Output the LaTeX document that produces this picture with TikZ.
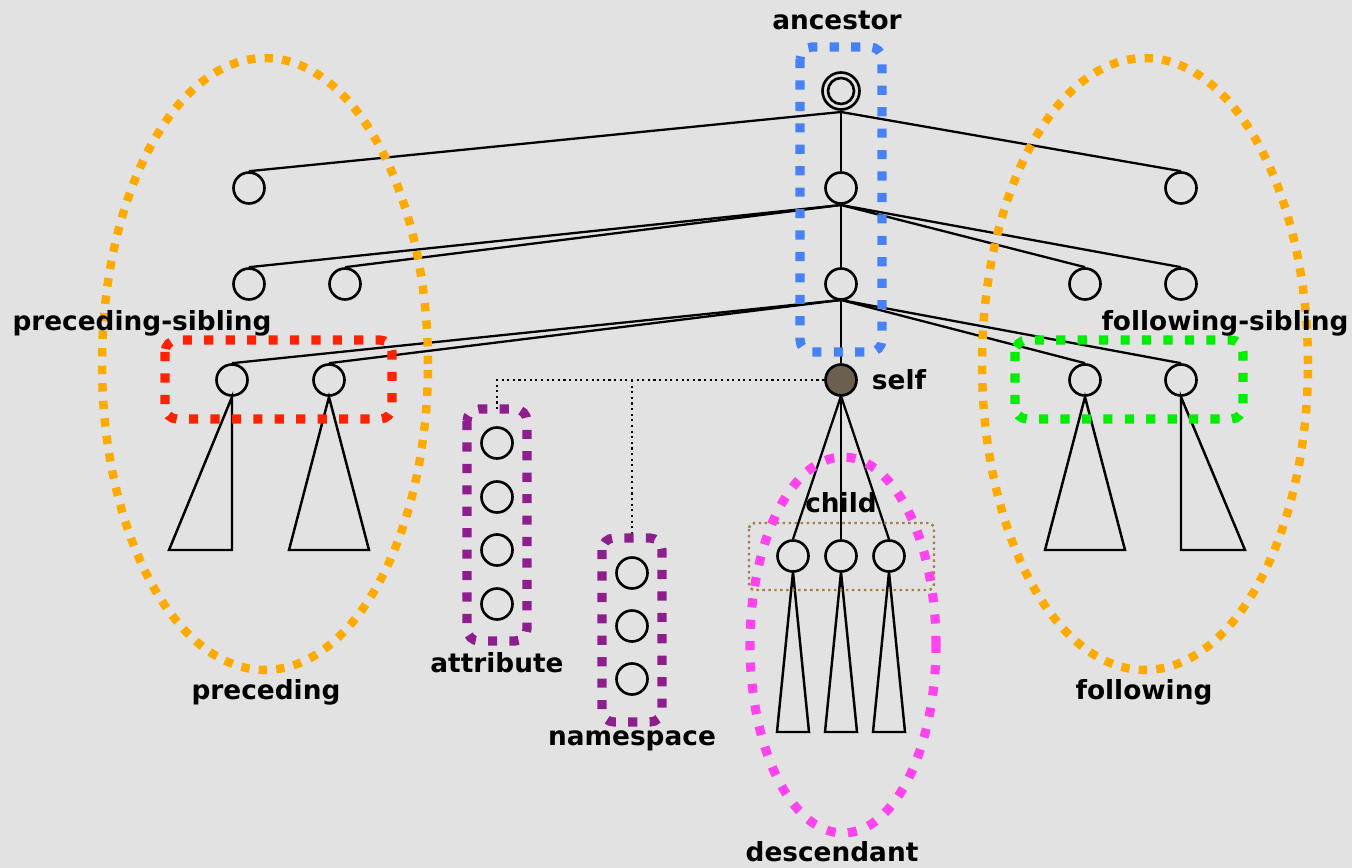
\documentclass[tikz,border=0pt]{standalone}
\usepackage{fontspec}
\setmainfont{DejaVu Sans}
\definecolor{bg}{RGB}{226,226,226}
\definecolor{cblue}{RGB}{70,130,245}
\definecolor{cred}{RGB}{255,34,0}
\definecolor{cgreen}{RGB}{0,238,0}
\definecolor{corange}{RGB}{255,170,0}
\definecolor{cpurple}{RGB}{142,30,142}
\definecolor{cmagenta}{RGB}{255,68,238}
\definecolor{cbrown}{RGB}{166,124,70}
\definecolor{cself}{RGB}{107,95,80}
\begin{document}
\begin{tikzpicture}[x={0.02cm},y={-0.02cm},
  nd/.style={circle,draw=black,line width=1.5pt,minimum size=0.62cm,inner sep=0pt},
  edge/.style={line width=1.3pt,black},
  tri/.style={line width=1.4pt,black},
  lbl/.style={font=\bfseries\fontsize{15}{18}\selectfont,inner sep=0pt},
  grp/.style={line width=5.2pt,dash pattern=on 5.2pt off 7pt,rounded corners=0.24cm},
  ell/.style={line width=4.8pt,dash pattern=on 4.8pt off 5.2pt}]
\fill[bg] (0,0) rectangle (1352,868);
\useasboundingbox (0,0) rectangle (1352,868);
% nodes
\node[circle,draw,line width=1.5pt,minimum size=0.74cm,inner sep=0pt] (r) at (841,91) {};
\node[circle,draw,line width=1.5pt,minimum size=0.52cm,inner sep=0pt] (ri) at (841,91) {};
\node[nd] (a1) at (249,188) {};
\node[nd] (b1) at (841,188) {};
\node[nd] (c1) at (1181,188) {};
\node[nd] (a2) at (249,284) {};
\node[nd] (a3) at (345,284) {};
\node[nd] (b2) at (841,284) {};
\node[nd] (c2) at (1085,284) {};
\node[nd] (c3) at (1181,284) {};
\node[nd] (p1) at (232,380) {};
\node[nd] (p2) at (329,380) {};
\node[nd,fill=cself] (self) at (841,380) {};
\node[nd] (f1) at (1085,380) {};
\node[nd] (f2) at (1181,380) {};
\node[nd] (at1) at (497,443) {};
\node[nd] (at2) at (497,497) {};
\node[nd] (at3) at (497,550) {};
\node[nd] (at4) at (497,604) {};
\node[nd] (ns1) at (632,573) {};
\node[nd] (ns2) at (632,626) {};
\node[nd] (ns3) at (632,679) {};
\node[nd] (ch1) at (793,556) {};
\node[nd] (ch2) at (841,556) {};
\node[nd] (ch3) at (889,556) {};
% tree edges
\coordinate (rs) at (841,112);
\coordinate (b1s) at (841,205);
\coordinate (b2s) at (841,300);
\coordinate (ss) at (841,396);
\draw[edge] (rs) -- (a1.north);
\draw[edge] (rs) -- (c1.north);
\draw[edge] (rs) -- (b1.north);
\draw[edge] (b1s) -- (a2.north);
\draw[edge] (b1s) -- (a3.north);
\draw[edge] (b1s) -- (b2.north);
\draw[edge] (b1s) -- (c2.north);
\draw[edge] (b1s) -- (c3.north);
\draw[edge] (b2s) -- (p1.north);
\draw[edge] (b2s) -- (p2.north);
\draw[edge] (b2s) -- (self.north);
\draw[edge] (b2s) -- (f1.north);
\draw[edge] (b2s) -- (f2.north);
\draw[edge] (ss) -- (ch1.north);
\draw[edge] (ss) -- (ch2.north);
\draw[edge] (ss) -- (ch3.north);
% subtrees
\draw[tri] (232,397) -- (232,550) -- (169,550) -- cycle;
\draw[tri] (329,397) -- (369,550) -- (289,550) -- cycle;
\draw[tri] (1085,397) -- (1125,550) -- (1045,550) -- cycle;
\draw[tri] (1181,397) -- (1181,550) -- (1245,550) -- cycle;
\draw[tri] (793,572) -- (809,732) -- (777,732) -- cycle;
\draw[tri] (841,572) -- (857,732) -- (825,732) -- cycle;
\draw[tri] (889,572) -- (905,732) -- (873,732) -- cycle;
% dotted connectors
\coordinate (atop) at (497,409);
\coordinate (ntop) at (632,538);
\coordinate (j1) at (497,380);
\coordinate (j2) at (632,380);
\draw[line width=1.2pt,dotted] (self.west) -- (j1) -- (atop);
\draw[line width=1.2pt,dotted] (j2) -- (ntop);
% groups
\draw[grp,cblue] (800,47) rectangle (882,352);
\draw[grp,cred] (165,340) rectangle (392,419);
\draw[grp,cgreen] (1015,340) rectangle (1243,419);
\draw[grp,cpurple] (467,409) rectangle (527,641);
\draw[grp,cpurple] (602,538) rectangle (662,722);
\draw[cbrown,line width=1.4pt,dotted,rounded corners=0.12cm] (749,523) rectangle (934,590);
\draw[ell,corange] (265,364) ellipse [x radius=3.26cm,y radius=6.12cm];
\draw[ell,corange] (1145,364) ellipse [x radius=3.26cm,y radius=6.12cm];
\draw[grp,cmagenta,rounded corners=0pt] (843,645) ellipse [x radius=1.86cm,y radius=3.76cm];
% labels
\node[lbl] (lanc) at (837,20) {ancestor};
\node[lbl] (lps) at (142,323) {preceding-sibling};
\node[lbl] (lfs) at (1225,323) {following-sibling};
\node[lbl] (lself) at (899,380) {self};
\node[lbl] (lch) at (841,503) {child};
\node[lbl] (latt) at (497,663) {attribute};
\node[lbl] (lns) at (632,741) {namespace};
\node[lbl] (lpre) at (266,692) {preceding};
\node[lbl] (lfol) at (1144,692) {following};
\node[lbl] (ldes) at (832,852) {descendant};
\end{tikzpicture}
\end{document}
